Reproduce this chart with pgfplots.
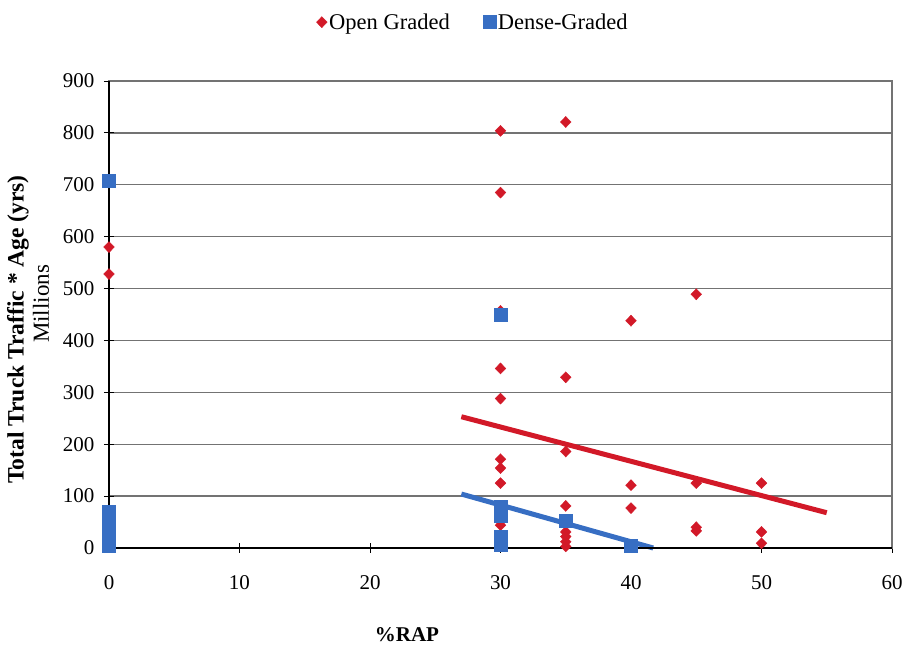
\documentclass[border=0pt]{standalone}
\usepackage{fontspec}
\setmainfont{Liberation Serif}
\usepackage{pgfplots}
\pgfplotsset{compat=1.18}
\definecolor{ogred}{RGB}{210,25,40}
\definecolor{dgblue}{RGB}{55,110,195}
\definecolor{gridgray}{RGB}{115,115,115}
\begin{document}
\begin{tikzpicture}
\useasboundingbox (0pt,0pt) rectangle (906pt,645pt);
\begin{axis}[
  at={(109pt,97pt)}, anchor=south west,
  scale only axis, width=783pt, height=467pt,
  xmin=0, xmax=60, ymin=0, ymax=900,
  xtick={0,10,...,60}, ytick={0,100,...,900},
  tick pos=left, tick align=center, major tick length=10pt,
  ymajorgrids, grid style={gridgray, line width=1.3pt},
  axis line style={draw=gridgray, line width=1.3pt},
  tick style={black, line width=1pt},
  /pgf/number format/assume math mode=true,
  ticklabel style={font=\fontsize{21}{25}\selectfont},
  xticklabel style={yshift=-19pt},
  yticklabel style={xshift=-6pt},
  clip=false,
  legend style={at={(0.465,1.126)}, anchor=center, draw=none, fill=none,
    legend columns=2, font=\fontsize{22.5}{26}\selectfont,
    /tikz/every even column/.append style={column sep=31pt},
    legend cell align=left},
]
\addplot[only marks, mark=diamond*, mark size=5.5pt, color=ogred, mark options={fill=ogred, draw=ogred, xscale=1.3}] coordinates {
(0,580) (0,528)
(30,804) (30,685) (30,457) (30,346) (30,288) (30,171) (30,154) (30,125) (30,44) (30,20) (30,5)
(35,821) (35,329) (35,186) (35,81) (35,31) (35,22) (35,12) (35,3)
(40,438) (40,121) (40,77)
(45,489) (45,125) (45,40) (45,33)
(50,125) (50,31) (50,9)
};
\addlegendentry{Open Graded}
\addplot[only marks, mark=square*, mark size=6.5pt, color=dgblue, mark options={fill=dgblue, draw=dgblue}] coordinates {
(0,708) (0,69) (0,58) (0,46) (0,35) (0,24) (0,13) (0,4)
(30,449) (30,80) (30,62) (30,22) (30,6)
(35,52) (40,5)
};
\addlegendentry{Dense-Graded}
\addplot[ogred, line width=5pt, forget plot] coordinates {(27,253) (55,68)};
\addplot[dgblue, line width=5pt, forget plot] coordinates {(27,104) (41.7,0)};
\draw[black, line width=1.3pt] (rel axis cs:0,1) -- (rel axis cs:0,0) -- (rel axis cs:1,0);
\end{axis}
\node[rotate=90, font=\bfseries\fontsize{23.5}{28}\selectfont] at (18pt,315.5pt) {Total Truck Traffic * Age (yrs)};
\node[rotate=90, font=\fontsize{23}{27}\selectfont] at (41pt,341pt) {Millions};
\node[font=\bfseries\fontsize{21}{25}\selectfont] at (407pt,10pt) {\%RAP};
\end{tikzpicture}
\end{document}
